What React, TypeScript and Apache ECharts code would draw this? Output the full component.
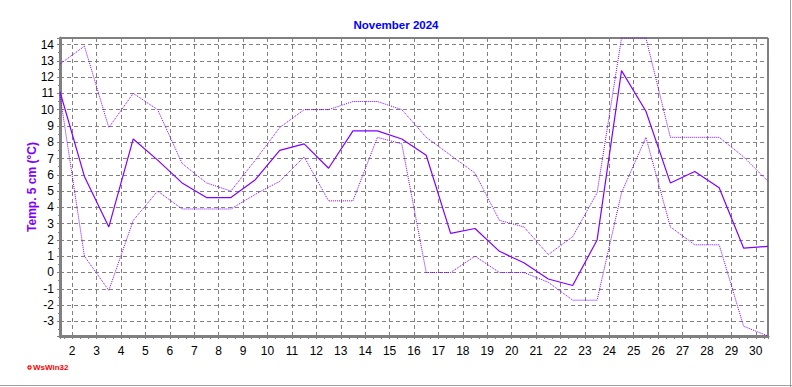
import React, { useEffect, useRef } from "react";
import * as echarts from "echarts";

const title = "November 2024";
const yName = "Temp. 5 cm (°C)";
const days = [1, 2, 3, 4, 5, 6, 7, 8, 9, 10, 11, 12, 13, 14, 15, 16, 17, 18, 19, 20, 21, 22, 23, 24, 25, 26, 27, 28, 29, 30];
const meanTemp = [11.1, 5.9, 2.8, 8.2, 6.9, 5.5, 4.6, 4.6, 5.7, 7.5, 7.9, 6.4, 8.7, 8.7, 8.2, 7.2, 2.4, 2.7, 1.3, 0.6, -0.4, -0.8, 2.0, 12.4, 9.9, 5.5, 6.2, 5.2, 1.5, 1.6];
const maxTemp = [12.8, 13.9, 8.9, 11.0, 10.0, 6.7, 5.5, 5.0, 6.9, 8.9, 10.0, 10.0, 10.5, 10.5, 10.0, 8.3, 7.2, 6.1, 3.2, 2.8, 1.1, 2.2, 4.9, 14.4, 14.4, 8.3, 8.3, 8.3, 7.1, 5.6];
const minTemp = [10.9, 1.0, -1.1, 3.2, 5.0, 3.9, 3.9, 3.9, 4.8, 5.6, 7.1, 4.4, 4.4, 8.3, 7.9, 0.0, 0.0, 1.0, 0.0, 0.0, -0.6, -1.7, -1.7, 4.9, 8.3, 2.8, 1.7, 1.7, -3.3, -3.9];

const LINE = "#8000ff";
const GRID = "#808080";
const FONT = "'Liberation Sans', Arial, sans-serif";

const toPairs = (vals: number[]) => days.map((d, i) => [d + 0.5, vals[i]]);
const intLabel = (v: number) => (Math.abs(v - Math.round(v)) < 1e-6 ? String(Math.round(v)) : "");

export default function App() {
  const ref = useRef<HTMLDivElement>(null);
  useEffect(() => {
    if (!ref.current) return;
    const chart = echarts.init(ref.current, null, { renderer: "svg" });
    chart.setOption({
      animation: false,
      backgroundColor: "#ffffff",
      title: {
        text: title,
        left: "center",
        top: 14,
        textStyle: { fontFamily: FONT, fontSize: 11.5, fontWeight: "bold", color: "#0000ff" },
      },
      grid: {
        left: 60,
        top: 38,
        right: 24,
        bottom: 51,
        show: true,
        borderColor: "#000000",
        borderWidth: 1,
        backgroundColor: "transparent",
      },
      xAxis: {
        type: "value",
        min: 1.5,
        max: 30.5,
        splitNumber: 29,
        axisLine: { show: true, onZero: false, lineStyle: { color: GRID, width: 3 } },
        axisTick: { show: true, length: 3, lineStyle: { color: GRID } },
        minorTick: { show: true, splitNumber: 3, length: 3, lineStyle: { color: GRID } },
        axisLabel: { formatter: intLabel, color: "#000", fontFamily: FONT, fontSize: 12, margin: 9 },
        splitLine: { show: true, lineStyle: { color: GRID, type: [4, 3], width: 1 } },
      },
      yAxis: {
        type: "value",
        min: -3.9,
        max: 14.4,
        splitNumber: 18,
        axisLine: { show: true, onZero: false, lineStyle: { color: GRID, width: 3 } },
        axisTick: { show: true, length: 3, lineStyle: { color: GRID } },
        minorTick: { show: true, splitNumber: 2, length: 2, lineStyle: { color: GRID } },
        axisLabel: { formatter: intLabel, color: "#000", fontFamily: FONT, fontSize: 12, margin: 6 },
        splitLine: { show: true, lineStyle: { color: GRID, type: [4, 3], width: 1 } },
      },
      series: [
        {
          name: "max",
          type: "line",
          data: toPairs(maxTemp),
          showSymbol: false,
          lineStyle: { color: LINE, width: 1, type: [1, 1] },
        },
        {
          name: "min",
          type: "line",
          data: toPairs(minTemp),
          showSymbol: false,
          lineStyle: { color: LINE, width: 1, type: [1, 1] },
        },
        {
          name: "mean",
          type: "line",
          data: toPairs(meanTemp),
          showSymbol: false,
          lineStyle: { color: LINE, width: 1.2 },
        },
      ],
      graphic: [
        { type: "line", shape: { x1: 790.5, y1: 0, x2: 790.5, y2: 387 }, style: { stroke: "#a0a0a0", lineWidth: 1 } },
        { type: "line", shape: { x1: 0, y1: 385.5, x2: 792, y2: 385.5 }, style: { stroke: "#a0a0a0", lineWidth: 1 } },
        {
          type: "text",
          x: 32,
          y: 187,
          rotation: Math.PI / 2,
          style: {
            text: yName,
            fill: LINE,
            font: "bold 12px 'Liberation Sans', Arial, sans-serif",
            textAlign: "center",
            textVerticalAlign: "middle",
          },
        },
        { type: "circle", shape: { cx: 29.5, cy: 367.5, r: 1.6 }, style: { fill: "none", stroke: "#ff0000", lineWidth: 1.2 } },
        {
          type: "text",
          x: 33,
          y: 367.5,
          style: { text: "WsWin32", fill: "#ff0000", font: "bold 8px 'Liberation Sans', Arial, sans-serif", textVerticalAlign: "middle" },
        },
      ],
    });
    return () => chart.dispose();
  }, []);
  return <div ref={ref} style={{ position: "fixed", left: 0, top: 0, width: 792, height: 387 }} />;
}
